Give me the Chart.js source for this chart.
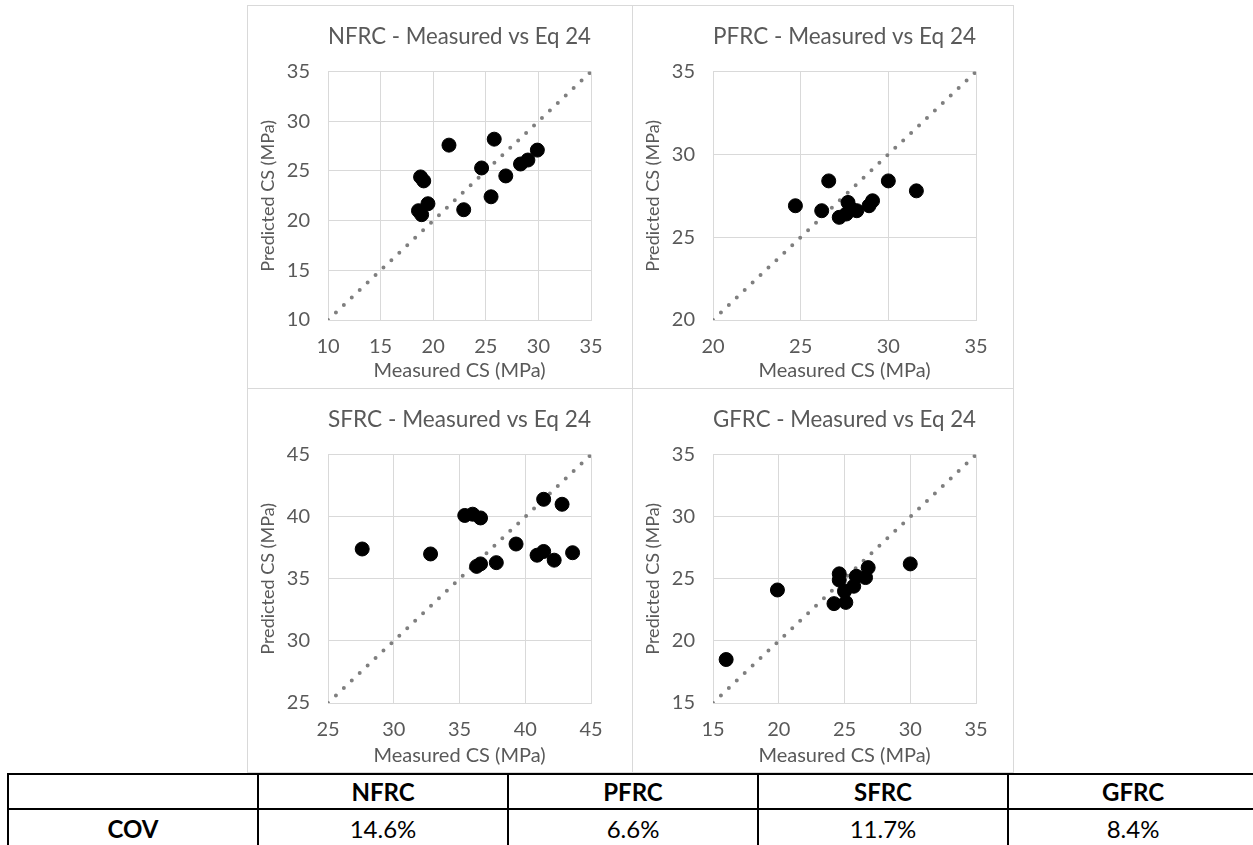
<!DOCTYPE html>
<html>
<head>
<meta charset="utf-8">
<title>Measured vs Eq 24</title>
<script src="https://cdn.jsdelivr.net/npm/chart.js@4.4.1/dist/chart.umd.min.js"></script>
<style>
  body { margin: 0; background: #fff; width: 1253px; height: 845px; position: relative; overflow: hidden; font-family: Lato, sans-serif; }
  .frame { position: absolute; left: 247px; top: 5px; width: 767px; height: 768px; border: 1px solid #d9d9d9; box-sizing: border-box; }
  .vline { position: absolute; left: 632px; top: 5px; width: 1px; height: 768px; background: #d9d9d9; }
  .hline { position: absolute; left: 247px; top: 388px; width: 767px; height: 1px; background: #d9d9d9; }
  canvas { position: absolute; }
  table { position: absolute; left: 7px; top: 773px; width: 1250px; border-collapse: collapse; table-layout: fixed; }
  td { border: 2px solid #000; text-align: center; font-size: 24px; color: #000; padding: 0; }
  tr.head td { height: 33px; font-weight: bold; }
  tr.vals td { height: 36px; }
  td.rowhead { font-weight: bold; }
</style>
</head>
<body>
<div class="frame"></div>
<div class="vline"></div>
<div class="hline"></div>
<canvas id="nfrc" width="384" height="382" style="left:248px;top:6px"></canvas>
<canvas id="pfrc" width="381" height="382" style="left:633px;top:6px"></canvas>
<canvas id="sfrc" width="384" height="384" style="left:248px;top:389px"></canvas>
<canvas id="gfrc" width="381" height="384" style="left:633px;top:389px"></canvas>
<table id="covTable">
  <colgroup><col style="width:250px"><col style="width:250px"><col style="width:250px"><col style="width:250px"><col style="width:250px"></colgroup>
</table>
<script>
// measured vs predicted compressive strength (MPa) per mix
const nfrcMeasured  = [21.5, 25.8, 18.8, 19.1, 24.6, 26.9, 28.3, 29.0, 29.9, 25.5, 22.9, 19.5, 18.6, 18.9];
const nfrcPredicted = [27.6, 28.2, 24.4, 24.0, 25.3, 24.5, 25.7, 26.1, 27.1, 22.4, 21.1, 21.7, 21.0, 20.6];

const pfrcMeasured  = [24.7, 26.2, 26.6, 27.2, 27.7, 27.6, 27.9, 28.2, 28.9, 29.1, 30.0, 31.6];
const pfrcPredicted = [26.9, 26.6, 28.4, 26.2, 27.1, 26.4, 26.7, 26.6, 26.9, 27.2, 28.4, 27.8];

const sfrcMeasured  = [27.6, 32.8, 35.4, 36.0, 36.6, 36.3, 36.6, 37.8, 39.3, 41.4, 42.8, 40.9, 41.4, 42.2, 43.6];
const sfrcPredicted = [37.4, 37.0, 40.1, 40.2, 39.9, 36.0, 36.2, 36.3, 37.8, 41.4, 41.0, 36.9, 37.2, 36.5, 37.1];

const gfrcMeasured  = [16.0, 19.9, 24.2, 25.1, 24.6, 24.6, 25.0, 25.7, 25.9, 26.6, 26.8, 30.0];
const gfrcPredicted = [18.5, 24.1, 23.0, 23.1, 25.4, 24.9, 24.0, 24.4, 25.2, 25.1, 25.9, 26.2];

// axis ranges [min, max], ticks every 5
const nfrcRange = [10, 35];
const pfrcRange = [20, 35];
const sfrcRange = [25, 45];
const gfrcRange = [15, 35];

const mixNames = ['NFRC', 'PFRC', 'SFRC', 'GFRC'];
const covValues = ['14.6%', '6.6%', '11.7%', '8.4%'];

const textGrey = '#595959';
const gridGrey = '#d9d9d9';
const fontFamily = "Lato, 'Open Sans', sans-serif";

function makeChart(id, name, measured, predicted, range) {
  const canvas = document.getElementById(id);
  const H = canvas.height;
  const W = canvas.width;
  const points = measured.map((x, i) => ({ x, y: predicted[i] }));

  const axis = (extra) => Object.assign({
    type: 'linear',
    min: range[0],
    max: range[1],
    grid: { color: gridGrey, lineWidth: 1, drawTicks: false },
    border: { color: gridGrey },
  }, extra);

  return new Chart(canvas, {
    type: 'scatter',
    data: {
      datasets: [{
        data: points,
        backgroundColor: '#000',
        borderColor: '#000',
        pointRadius: 7,
        pointHoverRadius: 7,
      }, {
        // 1:1 line
        data: [{ x: range[0], y: range[0] }, { x: range[1], y: range[1] }],
        showLine: true,
        borderColor: '#7f7f7f',
        borderWidth: 4,
        borderDash: [0, 10.9],
        borderCapStyle: 'round',
        pointRadius: 0,
      }]
    },
    options: {
      responsive: false,
      animation: false,
      layout: { padding: { left: 0, right: W - 343, top: 0, bottom: 0 } },
      plugins: {
        legend: { display: false },
        tooltip: { enabled: false },
        title: {
          display: true,
          text: name + ' - Measured vs Eq 24',
          color: textGrey,
          fullSize: false,
          font: { size: 23, weight: 'normal', family: fontFamily },
          padding: { top: 17, bottom: 21 },
        }
      },
      scales: {
        x: axis({
          position: 'bottom',
          ticks: { stepSize: 5, color: textGrey, padding: 15, maxRotation: 0, font: { size: 20, family: fontFamily } },
          title: { display: true, text: 'Measured CS (MPa)', color: textGrey, font: { size: 20, family: fontFamily }, padding: { top: 0, bottom: 5 } },
          afterFit: (s) => { s.height = H - 314; },
        }),
        y: axis({
          position: 'left',
          ticks: { stepSize: 5, color: textGrey, padding: 18, font: { size: 20, family: fontFamily } },
          title: { display: true, text: 'Predicted CS (MPa)', color: textGrey, font: { size: 18, family: fontFamily }, padding: { top: 9, bottom: 0 } },
          afterFit: (s) => { s.width = 80; },
        }),
      }
    }
  });
}

makeChart('nfrc', 'NFRC', nfrcMeasured, nfrcPredicted, nfrcRange);
makeChart('pfrc', 'PFRC', pfrcMeasured, pfrcPredicted, pfrcRange);
makeChart('sfrc', 'SFRC', sfrcMeasured, sfrcPredicted, sfrcRange);
makeChart('gfrc', 'GFRC', gfrcMeasured, gfrcPredicted, gfrcRange);

// COV summary table
const table = document.getElementById('covTable');
const head = table.insertRow();
head.className = 'head';
head.insertCell().textContent = '';
mixNames.forEach(m => { head.insertCell().textContent = m; });
const vals = table.insertRow();
vals.className = 'vals';
const lab = vals.insertCell();
lab.textContent = 'COV';
lab.className = 'rowhead';
covValues.forEach(v => { vals.insertCell().textContent = v; });
</script>
</body>
</html>
